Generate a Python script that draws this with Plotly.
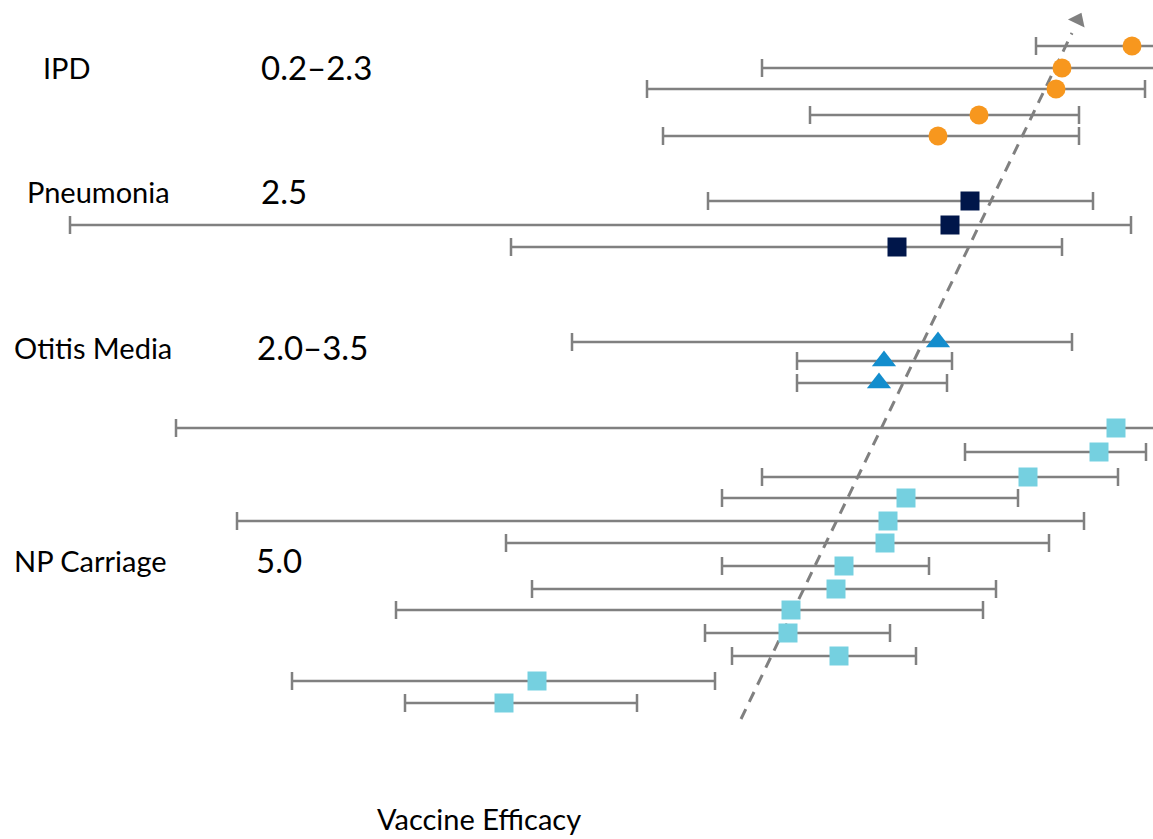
import plotly.graph_objects as go

# ---- data (x in efficacy-scale units, y = row position) ----
ipd_row = [46, 68, 89, 115, 136]
ipd_est = [1132, 1062, 1056, 979, 938]
ipd_lo = [1036, 762, 647, 810, 663]
ipd_hi = [1200, 1200, 1145, 1079, 1079]

pneu_row = [201, 225, 247]
pneu_est = [970, 950, 897]
pneu_lo = [708, 70, 511]
pneu_hi = [1093, 1131, 1062]

om_row = [342, 361, 383]
om_est = [938, 884, 879]
om_lo = [572, 797, 797]
om_hi = [1072, 952, 947]

np_row = [428, 452, 477, 498, 521, 543, 566, 589, 610, 633, 656, 681, 703]
np_est = [1116, 1099, 1028, 906, 888, 885, 844, 836, 791, 788, 839, 537, 504]
np_lo = [176, 965, 762, 722, 237, 506, 722, 532, 396, 705, 732, 292, 405]
np_hi = [1200, 1146, 1118, 1018, 1084, 1049, 929, 996, 983, 890, 916, 715, 637]

outcomes = ["IPD", "Pneumonia", "Otitis Media", "NP Carriage"]
outcome_row = [67, 191, 347, 560]
outcome_x = [41, 25, 12, 12]
thresholds = ["0.2–2.3", "2.5", "2.0–3.5", "5.0"]
threshold_x = [259, 259, 255, 254]

trend_x = [741, 1072]
trend_y = [719, 33]
arrow_x = [1078]
arrow_y = [20]

GRAY = "#808080"
FONT = "Lato"

fig = go.Figure()


def add_group(rows, est, lo, hi, color, symbol, size):
    fig.add_trace(go.Scatter(
        x=est, y=rows, mode="markers",
        marker=dict(color=color, symbol=symbol, size=size, line=dict(width=0)),
        error_x=dict(type="data", symmetric=False,
                     array=[h - e for h, e in zip(hi, est)],
                     arrayminus=[e - l for e, l in zip(est, lo)],
                     color=GRAY, thickness=2.5, width=9),
        showlegend=False, hoverinfo="skip"))


# dashed trend line
fig.add_trace(go.Scatter(x=trend_x, y=trend_y, mode="lines",
                         line=dict(color=GRAY, width=3, dash="11px,8px"),
                         showlegend=False, hoverinfo="skip"))
fig.add_trace(go.Scatter(x=arrow_x, y=arrow_y, mode="markers",
                         marker=dict(symbol="triangle-up", size=16, color=GRAY, angle=25.7),
                         showlegend=False, hoverinfo="skip"))

add_group(ipd_row, ipd_est, ipd_lo, ipd_hi, "#F7971E", "circle", 19)
add_group(pneu_row, pneu_est, pneu_lo, pneu_hi, "#00164A", "square", 19)
add_group(om_row, om_est, om_lo, om_hi, "#138DCD", "triangle-up", 21)
add_group(np_row, np_est, np_lo, np_hi, "#75D0E0", "square", 19)

for name, y, x, thr, tx in zip(outcomes, outcome_row, outcome_x, thresholds, threshold_x):
    fig.add_annotation(x=x, y=y, text=name, showarrow=False, xanchor="left", yanchor="middle",
                       font=dict(family=FONT, size=29, color="#000000"))
    fig.add_annotation(x=tx, y=y, text=thr, showarrow=False, xanchor="left", yanchor="middle",
                       font=dict(family=FONT, size=33, color="#000000"))

fig.add_annotation(x=375, y=818, text="Vaccine Efficacy", showarrow=False, xanchor="left",
                   yanchor="middle", font=dict(family=FONT, size=29, color="#000000"))

fig.update_layout(
    width=1153, height=839,
    margin=dict(l=0, r=0, t=0, b=0),
    paper_bgcolor="white", plot_bgcolor="white",
    hovermode=False,
    xaxis=dict(range=[0, 1153], visible=False, fixedrange=True),
    yaxis=dict(range=[839, 0], visible=False, fixedrange=True),
)

fig.write_html("out.html", config={"displayModeBar": False, "staticPlot": True},
               post_script="document.body.style.margin='0px';document.body.style.overflow='hidden';")
